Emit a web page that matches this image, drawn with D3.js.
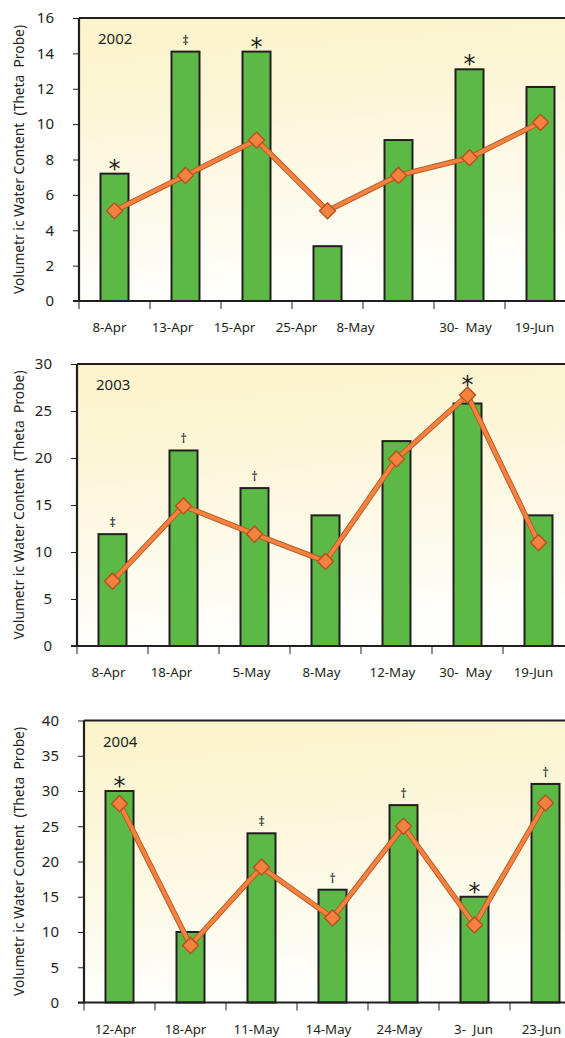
<!DOCTYPE html>
<html><head><meta charset="utf-8">
<script src="https://cdn.jsdelivr.net/npm/d3@7"></script>
<style>
body{margin:0;background:#fff;}
svg{display:block;font-family:"Noto Sans","Open Sans",sans-serif;}
</style></head>
<body>
<script>
// ---- data ----
const years = ["2002","2003","2004"];
const labels2002 = ["8-Apr","13-Apr","15-Apr","25-Apr","8-May","30-  May","19-Jun"];
const bars2002 = [7.2,14.1,14.1,3.1,9.1,13.1,12.1];
const line2002 = [5.1,7.1,9.1,5.1,7.1,8.1,10.1];
const marks2002 = ["*","‡","*","","","*",""];

const labels2003 = ["8-Apr","18-Apr","5-May","8-May","12-May","30-  May","19-Jun"];
const bars2003 = [11.9,20.8,16.8,13.9,21.8,25.8,13.9];
const line2003 = [6.9,14.9,11.9,9.0,19.9,26.7,11.0];
const marks2003 = ["‡","†","†","","","*",""];

const labels2004 = ["12-Apr","18-Apr","11-May","14-May","24-May","3-  Jun","23-Jun"];
const bars2004 = [30,10,24,16,28,15,31];
const line2004 = [28.2,8.1,19.2,12,25,11,28.3];
const marks2004 = ["*","","‡","†","†","*","†"];

const yMax = [16,30,40];
const yStep = [2,5,5];
const yTitle = "Volumetr ic Water Content  (Theta  Probe)";

// ---- layout (not data) ----
const W = 565, H = 1038;
const layouts = [
  {left:79, top:18, bottom:301, labelShift:[-5,-13,-22,-31,-43,-4,-6]},
  {left:77, top:364, bottom:646, labelShift:[-4,-12,-3,-4,-4,-2,-5]},
  {left:84, top:720.5, bottom:1002.5, labelShift:[-4,-5,-5,-4,-4,-1,-4]}
];
const bandW = 71;

const svg = d3.select("body").append("svg").attr("width",W).attr("height",H);
const defs = svg.append("defs");
const grad = defs.append("linearGradient").attr("id","bg").attr("x1","0").attr("y1","0").attr("x2","0.15").attr("y2","1");
grad.append("stop").attr("offset","0").attr("stop-color","#fbf3c9");
grad.append("stop").attr("offset","0.55").attr("stop-color","#fcf8e2");
grad.append("stop").attr("offset","1").attr("stop-color","#fefefc");

const panels = [
  {labels:labels2002, bars:bars2002, line:line2002, marks:marks2002},
  {labels:labels2003, bars:bars2003, line:line2003, marks:marks2003},
  {labels:labels2004, bars:bars2004, line:line2004, marks:marks2004}
];

panels.forEach((p,i)=>{
  const L = layouts[i];
  const right = L.left + bandW*p.labels.length;
  const xb = d3.scaleBand().domain(d3.range(p.labels.length)).range([L.left,right]);
  const y = d3.scaleLinear().domain([0,yMax[i]]).range([L.bottom,L.top]);
  const g = svg.append("g");

  // background
  g.append("rect").attr("x",L.left).attr("y",L.top).attr("width",right-L.left).attr("height",L.bottom-L.top).attr("fill","url(#bg)");

  // bars
  g.selectAll("rect.bar").data(p.bars).join("rect").attr("class","bar")
    .attr("x",(d,j)=>xb(j)+xb.bandwidth()/2-14).attr("width",28)
    .attr("y",d=>y(d)).attr("height",d=>L.bottom-y(d))
    .attr("fill","#5cb946").attr("stroke","#231f20").attr("stroke-width",2);

  // line
  const ln = d3.line().x((d,j)=>xb(j)+xb.bandwidth()/2).y(d=>y(d));
  g.append("path").attr("d",ln(p.line)).attr("fill","none").attr("stroke","#b4561f").attr("stroke-width",5.5).attr("stroke-linejoin","round");
  g.append("path").attr("d",ln(p.line)).attr("fill","none").attr("stroke","#f4813f").attr("stroke-width",3.8).attr("stroke-linejoin","round");
  const dia = d3.symbol().type(d3.symbolDiamond2).size(165);
  g.selectAll("path.mk").data(p.line).join("path").attr("class","mk")
    .attr("d",dia).attr("transform",(d,j)=>`translate(${xb(j)+xb.bandwidth()/2},${y(d)})`)
    .attr("fill","#f4813f").attr("stroke","#b4561f").attr("stroke-width",1.5).attr("stroke-linejoin","round");

  // significance marks
  g.selectAll("text.sig").data(p.marks).join("text").attr("class","sig")
    .attr("x",(d,j)=>xb(j)+xb.bandwidth()/2)
    .attr("y",(d,j)=>{
      const base = y(Math.max(p.bars[j],p.line[j]));
      const extra = p.line[j] > p.bars[j] ? -5 : 0;
      return base + extra + (d==="*"? 3 : -7);
    })
    .attr("text-anchor","middle").attr("font-size",d=>d==="*"?24:13)
    .attr("font-family",d=>d==="*"?"'DejaVu Sans',sans-serif":null)
    .attr("fill","#231f20")
    .text(d=>d);

  // frame: top
  g.append("line").attr("x1",L.left).attr("x2",right).attr("y1",L.top).attr("y2",L.top).attr("stroke","#231f20").attr("stroke-width",2);
  // y axis
  const ya = d3.axisLeft(y).tickValues(d3.range(0,yMax[i]+0.001,yStep[i])).tickSize(6).tickPadding(19);
  const yg = svg.append("g").attr("transform",`translate(${L.left},0)`).call(ya);
  yg.select(".domain").attr("stroke","#231f20").attr("stroke-width",2.2).attr("d",`M0,${L.top}V${L.bottom}`);
  yg.selectAll(".tick line").attr("stroke","#231f20").attr("stroke-width",1);
  yg.selectAll(".tick text").attr("font-size",15).attr("fill","#231f20").attr("font-family","'Noto Sans',sans-serif");

  // x axis
  const xg = svg.append("g").attr("transform",`translate(0,${L.bottom})`);
  xg.append("line").attr("x1",L.left-6).attr("x2",right).attr("stroke","#231f20").attr("stroke-width",2);
  xg.selectAll("line.tk").data(d3.range(p.labels.length)).join("line").attr("class","tk")
    .attr("x1",j=>xb(j)).attr("x2",j=>xb(j)).attr("y1",0).attr("y2",8).attr("stroke","#231f20").attr("stroke-width",1);
  xg.selectAll("text.xl").data(p.labels).join("text").attr("class","xl")
    .attr("x",(d,j)=>xb(j)+xb.bandwidth()/2+L.labelShift[j]).attr("y",31)
    .attr("text-anchor","middle").attr("font-size",13.3).attr("fill","#231f20")
    .attr("xml:space","preserve").style("white-space","pre").text(d=>d);

  // year label
  svg.append("text").attr("x",L.left+19).attr("y",L.top+26).attr("font-size",15).attr("fill","#231f20").text(years[i]);

  // y title
  svg.append("text").attr("transform",`translate(24,${(L.top+L.bottom)/2}) rotate(-90)`)
    .attr("text-anchor","middle").attr("font-size",13.8).attr("fill","#231f20")
    .style("white-space","pre").text(yTitle);
});
</script>
</body></html>
